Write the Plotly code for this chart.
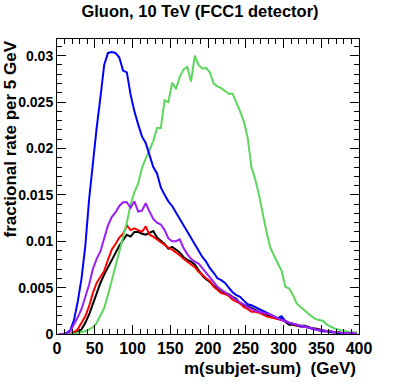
import numpy as np
import plotly.graph_objects as go

# bin centres, 5 GeV bins from 0 to 400
mass = np.arange(2.5, 400, 5.0)

black = [0, 0, 0, 0, 0.0001, 0.0002, 0.0005, 0.0012, 0.0021, 0.0033,
         0.0045, 0.0055, 0.0064, 0.0072, 0.0079, 0.0087, 0.0095, 0.0101, 0.0107, 0.0105,
         0.0110, 0.0110, 0.0108, 0.0107, 0.0109, 0.0111, 0.0104, 0.0101, 0.0097, 0.0092,
         0.0094, 0.0091, 0.0088, 0.0083, 0.0080, 0.0078, 0.0075, 0.0069, 0.0063, 0.0059,
         0.0056, 0.0052, 0.0048, 0.0045, 0.0044, 0.0043, 0.0040, 0.0038, 0.0033, 0.0031,
         0.0030, 0.0028, 0.0026, 0.0024, 0.0023, 0.0021, 0.0019, 0.0018, 0.0017, 0.0016,
         0.0013, 0.0010, 0.0010, 0.0009, 0.0009, 0.0009, 0.0008, 0.0006, 0.0006, 0.0005,
         0.0004, 0.0003, 0.0003, 0.0002, 0.0002, 0.0001, 0.0001, 0.0001, 0, 0]

red = [0, 0, 0, 0, 0.0002, 0.0005, 0.0012, 0.0019, 0.0030, 0.0044,
       0.0055, 0.0062, 0.0068, 0.0080, 0.0091, 0.0097, 0.0104, 0.0108, 0.0117, 0.0112,
       0.0114, 0.0112, 0.0110, 0.0116, 0.0107, 0.0105, 0.0102, 0.0099, 0.0096, 0.0093,
       0.0091, 0.0088, 0.0085, 0.0081, 0.0078, 0.0075, 0.0072, 0.0067, 0.0064, 0.0060,
       0.0057, 0.0051, 0.0047, 0.0044, 0.0043, 0.0041, 0.0037, 0.0035, 0.0033, 0.0029,
       0.0027, 0.0024, 0.0024, 0.0023, 0.0021, 0.0019, 0.0018, 0.0017, 0.0016, 0.0015,
       0.0014, 0.0012, 0.0011, 0.0009, 0.0008, 0.0008, 0.0007, 0.0006, 0.0005, 0.0004,
       0.0003, 0.0003, 0.0002, 0.0002, 0.0001, 0.0001, 0.0001, 0, 0, 0]

green = [0, 0, 0, 0, 0, 0.0001, 0.0002, 0.0003, 0.0005, 0.0007,
         0.0012, 0.0020, 0.0028, 0.0042, 0.0057, 0.0072, 0.0089, 0.0105, 0.0120, 0.0140,
         0.0153, 0.0162, 0.0179, 0.0189, 0.0199, 0.0208, 0.0222, 0.0222, 0.0252, 0.0250,
         0.0271, 0.0264, 0.0277, 0.0285, 0.0288, 0.0272, 0.0300, 0.0290, 0.0286, 0.0287,
         0.0282, 0.0270, 0.0267, 0.0265, 0.0262, 0.0259, 0.0259, 0.0250, 0.0240, 0.0229,
         0.0212, 0.0180, 0.0167, 0.0150, 0.0128, 0.0110, 0.0093, 0.0084, 0.0076, 0.0068,
         0.0051, 0.0049, 0.0042, 0.0033, 0.0029, 0.0025, 0.0022, 0.0019, 0.0016, 0.0015,
         0.0014, 0.0010, 0.0008, 0.0006, 0.0005, 0.0004, 0.0003, 0.0002, 0.0002, 0.0002]

blue = [0, 0, 0.0001, 0.0004, 0.0015, 0.0035, 0.0060, 0.0095, 0.0145, 0.0187,
        0.0222, 0.0255, 0.0290, 0.0303, 0.0304, 0.0303, 0.0298, 0.0284, 0.0282, 0.0258,
        0.0240, 0.0226, 0.0213, 0.0206, 0.0192, 0.0180, 0.0173, 0.0158, 0.0150, 0.0143,
        0.0138, 0.0131, 0.0124, 0.0117, 0.0111, 0.0104, 0.0097, 0.0090, 0.0083, 0.0078,
        0.0071, 0.0066, 0.0060, 0.0058, 0.0055, 0.0050, 0.0045, 0.0042, 0.0040, 0.0036,
        0.0032, 0.0031, 0.0029, 0.0027, 0.0025, 0.0023, 0.0021, 0.0019, 0.0017, 0.0019,
        0.0014, 0.0012, 0.0011, 0.0010, 0.0008, 0.0008, 0.0007, 0.0006, 0.0005, 0.0004,
        0.0003, 0.0003, 0.0002, 0.0002, 0.0001, 0.0001, 0.0001, 0.0001, 0, 0]

purple = [0, 0, 0, 0.0003, 0.0010, 0.0018, 0.0027, 0.0040, 0.0053, 0.0070,
          0.0081, 0.0089, 0.0103, 0.0117, 0.0126, 0.0131, 0.0138, 0.0142, 0.0142, 0.0136,
          0.0143, 0.0132, 0.0133, 0.0141, 0.0132, 0.0124, 0.0120, 0.0118, 0.0112, 0.0103,
          0.0100, 0.0100, 0.0102, 0.0093, 0.0086, 0.0081, 0.0078, 0.0076, 0.0071, 0.0066,
          0.0062, 0.0056, 0.0051, 0.0048, 0.0045, 0.0042, 0.0039, 0.0037, 0.0034, 0.0032,
          0.0029, 0.0027, 0.0025, 0.0024, 0.0023, 0.0022, 0.0021, 0.0019, 0.0017, 0.0015,
          0.0014, 0.0012, 0.0011, 0.0010, 0.0009, 0.0008, 0.0007, 0.0006, 0.0005, 0.0004,
          0.0004, 0.0003, 0.0003, 0.0002, 0.0002, 0.0001, 0.0001, 0.0001, 0.0001, 0]

x_range = [0, 400]
y_range = [0, 0.0318]

series = [
    (black, "#000000"),
    (red, "#ff0000"),
    (green, "#5cd65c"),
    (blue, "#0000ff"),
    (purple, "#9b1ff5"),
]

fig = go.Figure()
for values, color in series:
    fig.add_trace(go.Scatter(x=mass, y=values, mode="lines", line=dict(color=color, width=2), hoverinfo="skip"))

# empty trace so the mirrored top/right axes get drawn
fig.add_trace(go.Scatter(x=[], y=[], xaxis="x2", yaxis="y2", showlegend=False, hoverinfo="skip"))

font_family = "Liberation Sans, Arial, sans-serif"
frame = dict(
    showline=True,
    linecolor="#000000",
    linewidth=1,
    ticks="inside",
    ticklen=9,
    tickcolor="#000000",
    showgrid=False,
    zeroline=False,
    automargin=False,
)
x_minor = dict(ticks="inside", ticklen=5, dtick=10, tickcolor="#000000", showgrid=False)
y_minor = dict(ticks="inside", ticklen=5, dtick=0.001, tickcolor="#000000", showgrid=False)

fig.update_layout(
    xaxis=dict(range=x_range, dtick=50, minor=x_minor, tickprefix="<b>", ticksuffix="</b>",
               tickfont=dict(family=font_family, size=16, color="#000000"), **frame),
    yaxis=dict(range=y_range, dtick=0.005, minor=y_minor, tickprefix="<b>", ticksuffix="</b>",
               tickfont=dict(family=font_family, size=14, color="#000000"), **frame),
    xaxis2=dict(range=x_range, dtick=50, minor=x_minor, overlaying="x", side="top",
                showticklabels=False, **frame),
    yaxis2=dict(range=y_range, dtick=0.005, minor=y_minor, overlaying="y", side="right",
                showticklabels=False, **frame),
)

fig.add_annotation(
    text="<b>m(subjet-sum)\u00a0\u00a0(GeV)</b>", xref="paper", yref="paper", x=1, y=0,
    xanchor="right", yanchor="top", yshift=-23, xshift=-1, showarrow=False,
    font=dict(family=font_family, size=17, color="#000000"),
)
fig.add_annotation(
    text="<b>fractional rate per 5 GeV</b>", xref="paper", yref="paper", x=0, y=1,
    xanchor="center", yanchor="top", xshift=-47, yshift=0, textangle=-90, showarrow=False,
    font=dict(family=font_family, size=17, color="#000000"),
)

fig.update_layout(
    width=399,
    height=385,
    showlegend=False,
    plot_bgcolor="white",
    paper_bgcolor="white",
    margin=dict(l=57, r=40, t=39, b=51),
    title=dict(
        text="<b>Gluon, 10 TeV (FCC1 detector)</b>",
        font=dict(family=font_family, size=16.5, color="#000000"),
        x=200 / 399,
        xanchor="center",
        y=1 - 11 / 385,
        yanchor="middle",
    ),
)

# drop the default page margin so the figure sits at the window's top-left corner
fig.write_html(
    "out.html",
    config={"displayModeBar": False},
    post_script="document.body.style.margin = '0';",
)
